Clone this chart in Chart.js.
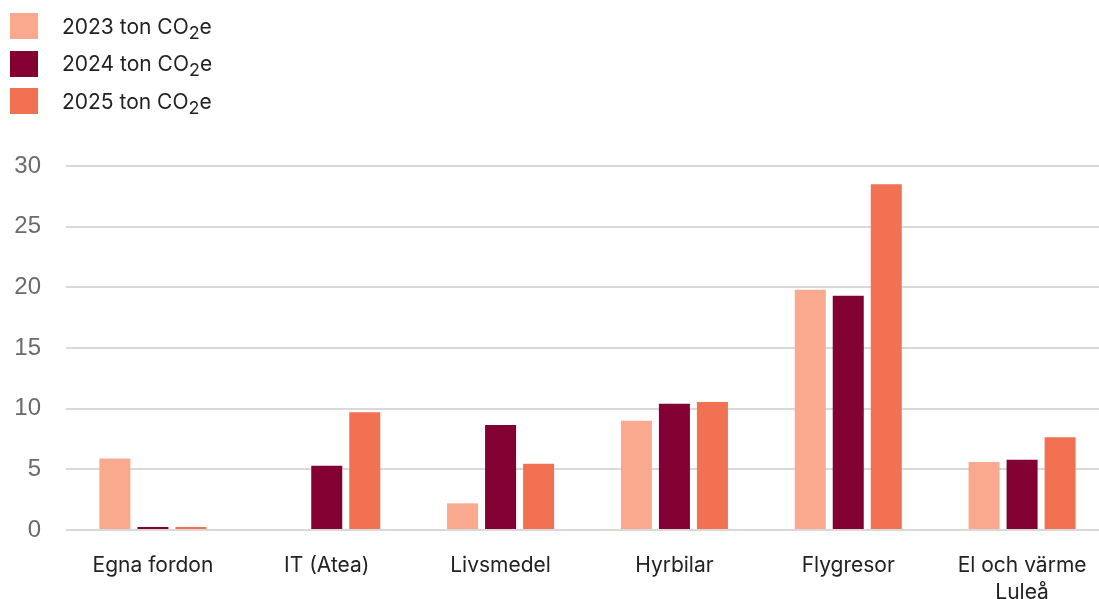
<!DOCTYPE html>
<html>
<head>
<meta charset="utf-8">
<script src="https://cdn.jsdelivr.net/npm/chart.js@4.4.1/dist/chart.umd.min.js"></script>
<style>
  html, body { margin: 0; padding: 0; background: #fff; overflow: hidden; }
  #wrap { position: relative; width: 1099px; height: 599px; overflow: hidden; }
  #chartBox { position: absolute; left: 0; top: 0; width: 1110px; height: 620px; }
  #legend { position: absolute; left: 10px; top: 13px; font-family: Inter, "Noto Sans", sans-serif; font-size: 21px; color: #222; }
  .item { display: flex; align-items: center; height: 26px; margin-bottom: 11.5px; white-space: nowrap; }
  .swatch { width: 28px; height: 26px; margin-right: 24px; }
  .item sub { font-size: 0.85em; vertical-align: -0.3em; line-height: 0; }
</style>
</head>
<body>
<div id="wrap">
  <div id="chartBox"><canvas id="myChart" width="1111" height="620"></canvas></div>
  <div id="legend"></div>
</div>
<script>
const categories = ['Egna fordon', 'IT (Atea)', 'Livsmedel', 'Hyrbilar', 'Flygresor', ['El och värme', 'Luleå']];
const seriesNames = ['2023 ton CO₂e', '2024 ton CO₂e', '2025 ton CO₂e'];
const values2023 = [5.9, null, 2.2, 9.0, 19.8, 5.6];
const values2024 = [0.25, 5.3, 8.65, 10.4, 19.3, 5.8];
const values2025 = [0.25, 9.7, 5.45, 10.55, 28.5, 7.65];
const yTicks = [0, 5, 10, 15, 20, 25, 30];
const colors = ['#F9AA8E', '#820032', '#F27152'];

const seriesValues = [values2023, values2024, values2025];

const ctx = document.getElementById('myChart');
const chart = new Chart(ctx, {
  type: 'bar',
  data: {
    labels: categories,
    datasets: seriesNames.map((name, i) => ({
      label: name,
      data: seriesValues[i],
      backgroundColor: colors[i],
      borderWidth: 0,
      categoryPercentage: 0.656,
      barPercentage: 0.816
    }))
  },
  options: {
    responsive: false,
    animation: false,
    layout: { padding: { top: 166, left: 1, right: 2, bottom: 0 } },
    plugins: {
      legend: { display: false },
      tooltip: { enabled: false }
    },
    scales: {
      x: {
        grid: { display: false, drawTicks: false },
        border: { display: false },
        ticks: {
          color: '#222',
          font: { family: 'Inter', size: 21, lineHeight: 1.25 },
          padding: 23,
          maxRotation: 0,
          autoSkip: false
        },
        afterFit: (scale) => { scale.height = 90; }
      },
      y: {
        min: 0,
        max: 30,
        afterBuildTicks: (scale) => { scale.ticks = yTicks.map(v => ({ value: v })); },
        grid: { color: '#d9d9d9', lineWidth: 2, drawTicks: false },
        border: { display: false },
        ticks: {
          color: '#6a6a6a',
          font: { family: 'Liberation Sans', size: 24 },
          padding: 25
        },
        afterFit: (scale) => { scale.width = 65; }
      }
    }
  }
});

// vertical legend, built from the datasets
const legendEl = document.getElementById('legend');
chart.data.datasets.forEach(ds => {
  const row = document.createElement('div');
  row.className = 'item';
  const sw = document.createElement('div');
  sw.className = 'swatch';
  sw.style.background = ds.backgroundColor;
  const txt = document.createElement('span');
  const parts = ds.label.split('₂');
  txt.appendChild(document.createTextNode(parts[0]));
  if (parts.length > 1) {
    const sub = document.createElement('sub');
    sub.textContent = '2';
    txt.appendChild(sub);
    txt.appendChild(document.createTextNode(parts[1]));
  }
  row.appendChild(sw);
  row.appendChild(txt);
  legendEl.appendChild(row);
});
</script>
</body>
</html>
